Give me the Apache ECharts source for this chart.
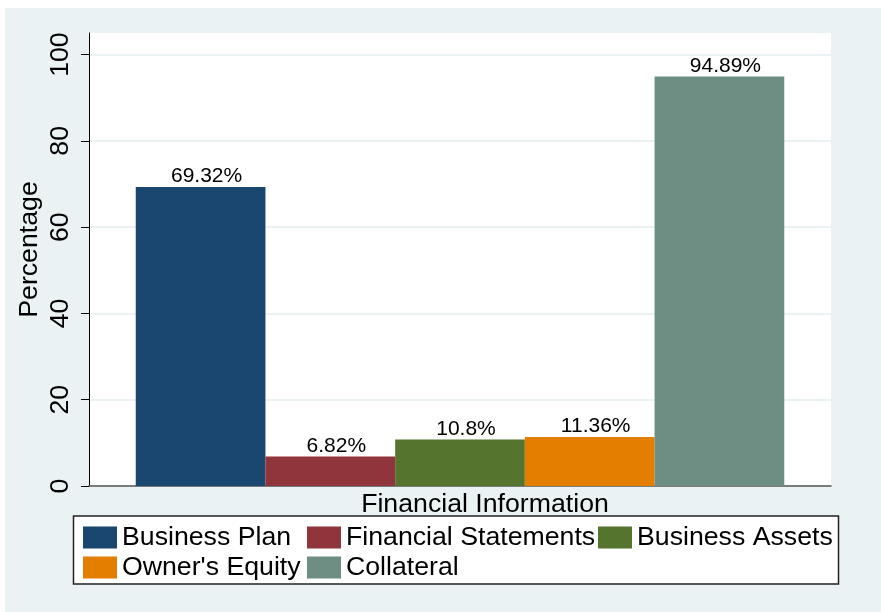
<!DOCTYPE html>
<html>
<head>
<meta charset="utf-8">
<script src="https://cdn.jsdelivr.net/npm/echarts@6/dist/echarts.min.js"></script>
<style>
html,body{margin:0;padding:0;background:#fff;}
#main{width:881px;height:612px;}
</style>
</head>
<body>
<div id="main"></div>
<script>
// data
var seriesNames = ['Business Plan', 'Financial Statements', 'Business Assets', "Owner's Equity", 'Collateral'];
var seriesValues = [69.32, 6.82, 10.8, 11.36, 94.89];
var seriesColors = ['#1a476f', '#90353b', '#55752f', '#e37e00', '#6e8e84'];
var yTicks = [0, 20, 40, 60, 80, 100];

var FONT = "'Liberation Sans', Arial, sans-serif";
var FS = 26.7;

var series = [];
for (var i = 0; i < seriesNames.length; i++) {
	series.push({
		name: seriesNames[i],
		type: 'bar',
		barGap: '0%',
		barCategoryGap: '12.6%',
		itemStyle: {color: seriesColors[i]},
		label: {
			show: true,
			position: 'top',
			distance: 0,
			offset: [6, 0],
			formatter: '{c}%',
			color: '#000',
			fontFamily: FONT,
			fontSize: 21
		},
		data: [seriesValues[i]]
	});
}

// legend column widths, stata style 3 columns
var legendCol = {'Business Plan': 'c1', "Owner's Equity": 'c1', 'Financial Statements': 'c2', 'Collateral': 'c2', 'Business Assets': 'c3'};

var option = {
	backgroundColor: '#fff',
	animation: false,
	graphic: [
		{type: 'rect', z: -10, shape: {x: 5, y: 8, width: 876, height: 604}, style: {fill: '#eaf2f3'}},
		{type: 'rect', z: 1, shape: {x: 73.5, y: 516, width: 765, height: 68}, style: {fill: '#fff', stroke: '#222', lineWidth: 1.5}}
	],
	grid: {
		left: 89, right: 50, top: 33, bottom: 126,
		show: true, backgroundColor: '#fff', borderWidth: 0,
		containLabel: false
	},
	legend: {
		left: 83, top: 522.5, width: 750,
		padding: 0,
		orient: 'horizontal',
		itemGap: 0,
		itemWidth: 34, itemHeight: 22,
		icon: 'rect',
		z: 5,
		data: seriesNames,
		formatter: function (name) { return '{' + legendCol[name] + '|' + name + '}'; },
		textStyle: {
			color: '#000', fontFamily: FONT, fontSize: FS, lineHeight: 30,
			rich: {
				c1: {width: 185, fontSize: FS, fontFamily: FONT, lineHeight: 30},
				c2: {width: 252, fontSize: FS, fontFamily: FONT, lineHeight: 30},
				c3: {fontSize: FS, fontFamily: FONT, lineHeight: 30}
			}
		}
	},
	xAxis: {
		type: 'category',
		data: [''],
		name: 'Financial Information',
		nameLocation: 'middle',
		nameGap: 5,
		nameMoveOverlap: false,
		nameTextStyle: {color: '#000', fontFamily: FONT, fontSize: FS, padding: [0, 0, 0, 50]},
		axisLine: {show: true, lineStyle: {color: '#555', width: 1.5}},
		axisTick: {show: false},
		axisLabel: {show: false}
	},
	yAxis: {
		type: 'value',
		min: 0,
		max: 105,
		name: 'Percentage',
		nameLocation: 'middle',
		nameGap: 46,
		nameMoveOverlap: false,
		nameTextStyle: {color: '#000', fontFamily: FONT, fontSize: FS, padding: [0, 0, 0, 20]},
		axisLine: {show: true, lineStyle: {color: '#000', width: 1}},
		axisTick: {show: true, length: 8, customValues: yTicks, lineStyle: {color: '#000', width: 1}},
		axisLabel: {
			customValues: yTicks,
			rotate: 90,
			margin: 15,
			color: '#000',
			fontFamily: FONT,
			fontSize: FS
		},
		splitLine: {show: true, lineStyle: {color: '#eaf2f3', width: 2}}
	},
	series: series
};

echarts.init(document.getElementById('main')).setOption(option);
</script>
</body>
</html>
